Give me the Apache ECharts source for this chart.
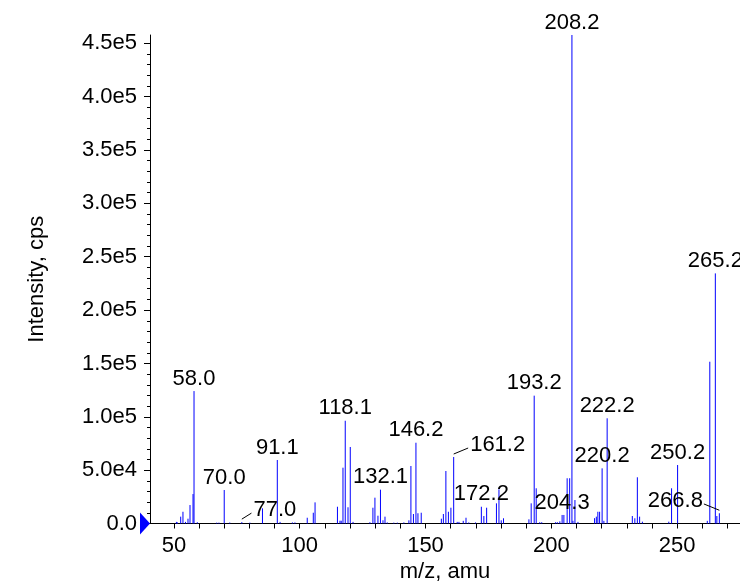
<!DOCTYPE html>
<html>
<head>
<meta charset="utf-8">
<script src="https://cdn.jsdelivr.net/npm/echarts@6/dist/echarts.min.js"></script>
<style>
html,body{margin:0;padding:0;background:#fff;}
#chart{width:740px;height:582px;}
</style>
</head>
<body>
<div id="chart"></div>
<script>
// ---- data ----
var peakMz = [51.0,51.4,52.7,53.6,54.6,55.6,56.4,57.6,58.0,59.3,
  67.0,67.9,70.0,72.2,77.0,80.2,85.2,91.1,92.2,97.1,98.1,
  103.0,105.4,106.1,115.0,116.0,116.5,117.2,118.1,119.2,120.1,121.2,
  127.9,129.1,129.9,131.1,132.1,133.1,133.9,134.8,137.4,138.8,141.4,143.4,
  144.2,145.2,146.2,147.0,148.3,
  156.3,157.1,158.1,159.1,160.1,161.2,162.6,163.3,165.0,166.1,167.2,169.9,
  172.2,173.2,174.3,178.2,179.2,180.1,181.0,
  191.1,192.0,193.2,194.0,195.4,196.2,201.7,202.4,203.4,204.3,205.0,206.3,207.3,208.2,208.6,209.4,210.6,
  217.2,217.9,218.5,219.2,220.2,220.9,222.2,
  232.2,233.2,234.2,235.1,236.2,246.7,247.8,250.2,262.0,263.0,265.2,265.8,266.8];
var peakIntensity = [1500,1000,6400,11000,1500,4500,17300,27600,124100,1200,
  800,800,31400,900,1300,800,14200,59500,1500,1000,1000,
  5400,10100,19800,15700,2600,2600,52300,96300,15200,71700,1500,
  1200,14800,24200,7300,31700,3000,6400,1000,800,800,1000,3000,
  53900,8900,75700,9600,10100,
  4500,8900,49200,11000,14800,62300,1500,1500,2500,5400,1000,1000,
  15700,7000,14800,18900,32000,3000,4900,
  3900,18900,119800,33000,1200,1200,1200,1200,2000,8000,8000,42400,42400,457800,2500,22000,1500,
  5000,6400,11000,11000,51700,2500,98600,
  7000,4900,43300,6400,1700,1700,33000,54800,2500,151600,234400,7000,9600];
var labelledMz = [58.0,70.0,77.0,91.1,118.1,132.1,146.2,161.2,172.2,193.2,204.3,208.2,220.2,222.2,250.2,265.2,266.8];
var xLabelValues = [50,100,150,200,250];
var xTickValues = [50,60,70,80,90,100,110,120,130,140,150,160,170,180,190,200,210,220,230,240,250,260,270];
var yLabelValues = [0,50000,100000,150000,200000,250000,300000,350000,400000,450000];
var yMinorValues = [10000,20000,30000,40000,60000,70000,80000,90000,110000,120000,130000,140000,
  160000,170000,180000,190000,210000,220000,230000,240000,260000,270000,280000,290000,
  310000,320000,330000,340000,360000,370000,380000,390000,410000,420000,430000,440000];
var xMin = 40.5, xMax = 275, yMax = 457800;

// ---- styles ----
var FONT = '"Liberation Sans", Arial, Helvetica, sans-serif';
var FS = 22;
var BLUE = '#0000ff';
// label placement (pixel shifts from the peak top) and leader lines
var labelShift = { '77.0': [33, -12, 'left'], '161.2': [44, -12, 'left'], '266.8': [-44, -12.3, 'right'] };
var defaultShift = [0, -12.5];

var measureCtx = document.createElement('canvas').getContext('2d');
measureCtx.font = FS + 'px ' + FONT;

var peakData = peakMz.map(function (m, i) { return [m, peakIntensity[i]]; });
var labelData = labelledMz.map(function (m) {
  var idx = peakMz.indexOf(m);
  return [m, peakIntensity[idx], m.toFixed(1)];
});

function sciFmt(v) {
  if (v === 0) return '0.0';
  var e = Math.floor(Math.log10(v));
  return (v / Math.pow(10, e)).toFixed(1) + 'e' + e;
}

var chart = echarts.init(document.getElementById('chart'));
chart.setOption({
  animation: false,
  backgroundColor: '#fff',
  grid: { left: 150, right: 0, top: 35, bottom: 58.5, containLabel: false, outerBoundsMode: 'none' },
  xAxis: {
    type: 'value', min: xMin, max: xMax,
    name: 'm/z, amu', nameLocation: 'middle', nameGap: 37,
    nameTextStyle: { fontFamily: FONT, fontSize: FS, color: '#000' },
    axisLine: { show: true, lineStyle: { color: '#000', width: 1 } },
    axisTick: { show: true, length: 5, lineStyle: { color: '#000' }, customValues: xTickValues },
    axisLabel: { fontFamily: FONT, fontSize: FS, color: '#000', margin: 11, customValues: xLabelValues },
    splitLine: { show: false }
  },
  yAxis: [{
    type: 'value', min: 0, max: yMax, position: 'left',
    name: 'Intensity, cps', nameLocation: 'middle', nameGap: 102,
    nameTextStyle: { fontFamily: FONT, fontSize: FS, color: '#000' },
    axisLine: { show: true, lineStyle: { color: '#000', width: 1 } },
    axisTick: { show: true, length: 6, lineStyle: { color: '#000' }, customValues: yLabelValues },
    axisLabel: { fontFamily: FONT, fontSize: FS, color: '#000', margin: 13, customValues: yLabelValues, formatter: sciFmt },
    splitLine: { show: false }
  }, {
    type: 'value', min: 0, max: yMax, position: 'left', offset: 0,
    axisLine: { show: false },
    axisTick: { show: true, length: 3, lineStyle: { color: '#000' }, customValues: yMinorValues },
    axisLabel: { show: false },
    splitLine: { show: false }
  }],
  series: [{
    type: 'custom',
    name: 'peaks',
    data: peakData,
    encode: { x: 0, y: 1 },
    renderItem: function (params, api) {
      var base = api.coord([api.value(0), 0]);
      var top = api.coord([api.value(0), api.value(1)]);
      return { type: 'line', shape: { x1: base[0], y1: base[1], x2: top[0], y2: top[1] },
        style: { stroke: BLUE, lineWidth: 1 } };
    },
    z: 2
  }, {
    type: 'custom',
    name: 'labels',
    data: labelData,
    encode: { x: 0, y: 1 },
    renderItem: function (params, api) {
      var text = labelData[params.dataIndex][2];
      var p = api.coord([api.value(0), api.value(1)]);
      var s = labelShift[text] || defaultShift;
      var cx = p[0] + s[0], cy = p[1] + s[1];
      var children = [{
        type: 'text',
        style: { text: text, x: cx, y: cy, fill: '#000', font: FS + 'px ' + FONT,
          align: 'center', verticalAlign: 'middle', textAlign: 'center', textVerticalAlign: 'middle' }
      }];
      if (s[2]) {
        var half = measureCtx.measureText(text).width / 2;
        var ex = s[2] === 'left' ? cx - half - 2 : cx + half + 1;
        children.push({ type: 'line', shape: { x1: p[0], y1: p[1] - 3, x2: ex, y2: cy + 3 },
          style: { stroke: '#000', lineWidth: 1 } });
      }
      return { type: 'group', children: children };
    },
    z: 3
  }, {
    type: 'custom',
    name: 'origin',
    data: [[xMin, 0]],
    encode: { x: 0, y: 1 },
    renderItem: function (params, api) {
      var p = api.coord([api.value(0), api.value(1)]);
      return { type: 'polygon', shape: { points: [[p[0], p[1]], [p[0] - 10, p[1] - 11], [p[0] - 10, p[1] + 11]] },
        style: { fill: BLUE } };
    },
    z: 4
  }]
});
</script>
</body>
</html>
